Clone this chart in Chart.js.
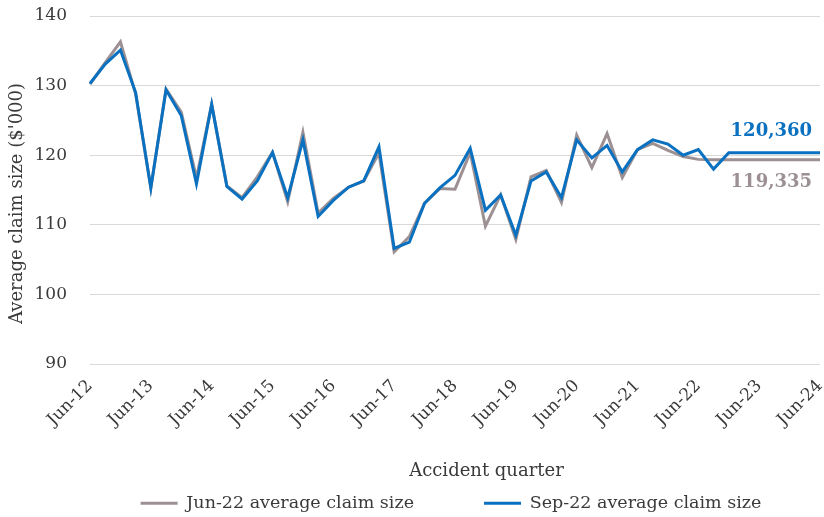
<!DOCTYPE html>
<html>
<head>
<meta charset="utf-8">
<script src="https://cdn.jsdelivr.net/npm/chart.js@4.4.0/dist/chart.umd.min.js"></script>
<style>
html,body{margin:0;padding:0;background:#fff;}
#wrap{width:824px;height:517px;position:relative;}
</style>
</head>
<body>
<div id="wrap"><canvas id="c" width="824" height="517"></canvas></div>
<script>
const quarters = [
  'Jun-12','Sep-12','Dec-12','Mar-13','Jun-13','Sep-13','Dec-13','Mar-14',
  'Jun-14','Sep-14','Dec-14','Mar-15','Jun-15','Sep-15','Dec-15','Mar-16',
  'Jun-16','Sep-16','Dec-16','Mar-17','Jun-17','Sep-17','Dec-17','Mar-18',
  'Jun-18','Sep-18','Dec-18','Mar-19','Jun-19','Sep-19','Dec-19','Mar-20',
  'Jun-20','Sep-20','Dec-20','Mar-21','Jun-21','Sep-21','Dec-21','Mar-22',
  'Jun-22','Sep-22','Dec-22','Mar-23','Jun-23','Sep-23','Dec-23','Mar-24',
  'Jun-24'
];
const jun22Series = [
  130.2,133.3,136.3,128.8,115.3,129.5,126.2,116.7,
  127.3,115.6,113.9,116.9,120.4,113.3,123.3,111.7,
  113.8,115.4,116.3,120.3,106.1,108.3,113.1,115.2,
  115.1,120.4,109.8,114.3,107.9,116.9,117.8,113.2,
  122.9,118.2,123.1,116.8,120.8,121.7,120.7,119.8,
  119.4,119.335,119.335,119.335,119.335,119.335,119.335,119.335,
  119.335
];
const sep22Series = [
  130.3,133.1,135.1,129.0,115.3,129.4,125.7,115.9,
  127.3,115.5,113.7,116.3,120.4,113.9,122.2,111.2,
  113.5,115.4,116.3,121.2,106.6,107.5,113.1,115.3,
  117.1,121.0,112.1,114.3,108.5,116.3,117.6,113.9,
  122.2,119.6,121.4,117.6,120.8,122.2,121.6,120.0,
  120.8,118.0,120.36,120.36,120.36,120.36,120.36,120.36,
  120.36
];
const seriesNames = ['Jun-22 average claim size','Sep-22 average claim size'];
const endLabels = ['119,335','120,360'];
const yTicks = [90,100,110,120,130,140];

const GREY = '#9C9093';
const BLUE = '#0A70C0';
const TEXT = '#3A3A3A';
const FONT = "'DejaVu Serif', serif";
const BOTTOM_PAD = -5;
const PLOT_BOTTOM = 364;

const endLabelPlugin = {
  id: 'endLabels',
  afterDatasetsDraw(chart) {
    const ctx = chart.ctx;
    const offsets = [22, -21];
    chart.data.datasets.forEach((ds, i) => {
      const meta = chart.getDatasetMeta(i);
      const pt = meta.data[meta.data.length - 1];
      ctx.save();
      ctx.font = "bold 18px " + FONT;
      ctx.fillStyle = ds.borderColor;
      ctx.textAlign = 'right';
      ctx.textBaseline = 'middle';
      ctx.fillText(endLabels[i], pt.x - 8, pt.y + offsets[i]);
      ctx.restore();
    });
  }
};

const legendShift = {
  id: 'legendShift',
  afterLayout(chart) {
    if (chart.legend) { chart.legend.left += 39; chart.legend.right += 39; }
  }
};

new Chart(document.getElementById('c'), {
  type: 'line',
  data: {
    labels: quarters,
    datasets: [
      {label: seriesNames[0], data: jun22Series, borderColor: GREY, backgroundColor: GREY,
       borderWidth: 3, pointRadius: 0, tension: 0, order: 2},
      {label: seriesNames[1], data: sep22Series, borderColor: BLUE, backgroundColor: BLUE,
       borderWidth: 3, pointRadius: 0, tension: 0, order: 1}
    ]
  },
  options: {
    responsive: false,
    animation: false,
    devicePixelRatio: 1,
    layout: {padding: {top: 16, right: 4, left: 4, bottom: BOTTOM_PAD}},
    plugins: {
      tooltip: {enabled: false},
      legend: {
        position: 'bottom',
        labels: {
          font: {family: FONT, size: 17.5},
          color: TEXT,
          usePointStyle: true,
          pointStyle: 'line',
          pointStyleWidth: 37,
          boxWidth: 37,
          boxHeight: 3,
          padding: 0,
          sort: (a, b) => a.datasetIndex - b.datasetIndex,
          generateLabels(chart) {
            const items = Chart.defaults.plugins.legend.labels.generateLabels(chart);
            items.forEach((it) => {
              const ds = chart.data.datasets[it.datasetIndex];
              it.pointStyle = 'line';
              it.lineWidth = 3;
              it.strokeStyle = ds.borderColor;
              if (it.datasetIndex === 0) it.text = it.text + '\u2003\u2003\u2003\u2002\u2006\u2006\u2006';
            });
            return items;
          }
        }
      }
    },
    scales: {
      x: {
        type: 'category',
        offset: false,
        grid: {display: false, drawTicks: false},
        border: {display: false},
        ticks: {
          autoSkip: false,
          maxRotation: 45,
          minRotation: 45,
          padding: 12,
          color: TEXT,
          font: {family: FONT, size: 17},
          callback(v, i) { return i % 4 === 0 ? quarters[i] : ''; }
        },
        title: {
          display: true,
          text: '\u2003\u2003\u2003\u2002Accident quarter',
          color: TEXT,
          font: {family: FONT, size: 18},
          padding: {top: 10, bottom: 12.7}
        },
        afterFit(scale) {
          scale.paddingLeft = 0;
          scale.paddingRight = 0;
          const lh = scale.chart.legend ? scale.chart.legend.height : 27.5;
          scale.height = scale.chart.height - BOTTOM_PAD - PLOT_BOTTOM - lh;
        }
      },
      y: {
        min: 90,
        max: 140,
        afterBuildTicks(scale) { scale.ticks = yTicks.map(v => ({value: v})); },
        grid: {color: '#D9D9D9', lineWidth: 1, drawTicks: false},
        border: {display: false},
        ticks: {
          padding: 23,
          color: TEXT,
          font: {family: FONT, size: 17}
        },
        title: {
          display: true,
          text: "Average claim size ($'000)\u2003\u2002",
          color: TEXT,
          font: {family: FONT, size: 18},
          padding: {top: 3, bottom: 4}
        },
        afterFit(scale) {
          scale.width = 86;
          scale.paddingTop = 0;
          scale.paddingBottom = 0;
        }
      }
    }
  },
  plugins: [endLabelPlugin, legendShift]
});
</script>
</body>
</html>
